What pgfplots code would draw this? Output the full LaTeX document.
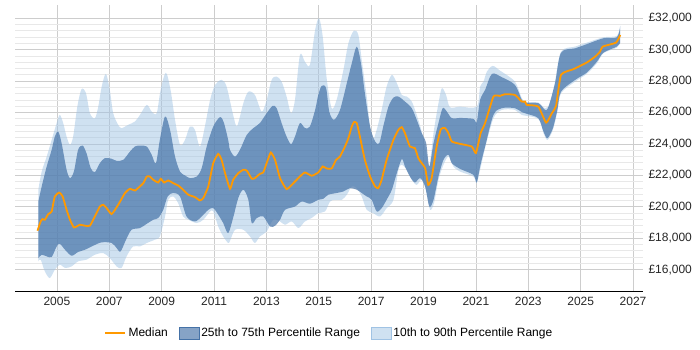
\documentclass[border=0pt]{standalone}
\usepackage{fontspec}
\setmainfont{Liberation Sans}
\usepackage{pgfplots}
\pgfplotsset{compat=1.18}
\usepgfplotslibrary{fillbetween}
\definecolor{med}{RGB}{255,153,0}
\definecolor{iqr}{RGB}{69,114,167}
\definecolor{dec}{RGB}{160,195,228}
\definecolor{gmaj}{RGB}{205,205,205}
\definecolor{gmin}{RGB}{232,232,232}

\pgfplotstableread{
x y
2004.26 18480
2004.38 19070
2004.45 19220
2004.54 19180
2004.67 19540
2004.80 19710
2004.92 20660
2005.09 20910
2005.22 20660
2005.37 19810
2005.50 19180
2005.65 18690
2005.88 18860
2006.07 18800
2006.26 18800
2006.45 19390
2006.64 20020
2006.77 20130
2006.90 19920
2007.09 19540
2007.34 20130
2007.60 20880
2007.79 21150
2007.98 21040
2008.17 21300
2008.30 21510
2008.43 21930
2008.55 21930
2008.68 21720
2008.87 21550
2008.97 21790
2009.09 21550
2009.25 21680
2009.44 21510
2009.63 21360
2009.82 21090
2010.02 20770
2010.27 20620
2010.46 20410
2010.59 20560
2010.78 21300
2010.97 22780
2011.16 23370
2011.29 22990
2011.42 22150
2011.61 21150
2011.73 21720
2011.93 22150
2012.12 22360
2012.25 22310
2012.44 21790
2012.56 21830
2012.75 22100
2012.88 22190
2013.03 22880
2013.17 23460
2013.33 22990
2013.52 21830
2013.77 21130
2014.03 21510
2014.28 21930
2014.47 22190
2014.73 21980
2014.98 22190
2015.15 22570
2015.30 22440
2015.49 22440
2015.66 22990
2015.81 23200
2016.00 23840
2016.13 24370
2016.26 25110
2016.34 25390
2016.45 25330
2016.57 24470
2016.76 22990
2016.96 21930
2017.15 21300
2017.27 21190
2017.40 21720
2017.59 22990
2017.85 24260
2018.04 24900
2018.17 25070
2018.29 24690
2018.48 23840
2018.67 23740
2018.80 23100
2018.93 22780
2019.06 22470
2019.18 21400
2019.31 21830
2019.50 23840
2019.66 24940
2019.82 25010
2019.95 24690
2020.08 24160
2020.39 24010
2020.84 23840
2021.00 23420
2021.18 24690
2021.35 25330
2021.67 27020
2021.92 27060
2022.11 27170
2022.49 27120
2022.75 26700
2022.88 26700
2022.94 26490
2023.38 26380
2023.68 25360
2023.90 25960
2024.06 26430
2024.25 28400
2024.72 28760
2025.23 29180
2025.55 29560
2025.74 29880
2025.84 30200
2026.35 30450
2026.51 30940
}\median

\pgfplotstableread{
x y
2004.29 20340
2004.42 21300
2004.61 22570
2004.80 23630
2004.92 24470
2005.05 24790
2005.18 24050
2005.37 22360
2005.50 21830
2005.65 22250
2005.81 23630
2005.98 23900
2006.13 23420
2006.29 22470
2006.45 22210
2006.64 22780
2006.83 23100
2007.09 23060
2007.28 22930
2007.53 22990
2007.79 23520
2007.98 23840
2008.17 23900
2008.43 23840
2008.62 23310
2008.78 22780
2008.93 24260
2009.13 25750
2009.32 24900
2009.51 23200
2009.70 22250
2009.89 22000
2010.08 21830
2010.34 21930
2010.53 22470
2010.72 23840
2010.97 25110
2011.23 25710
2011.38 25330
2011.54 24260
2011.61 23630
2011.80 23200
2011.99 23630
2012.25 24580
2012.50 25010
2012.75 25330
2013.01 25960
2013.24 26430
2013.39 26280
2013.58 25330
2013.77 24470
2013.94 23990
2014.09 24470
2014.28 25330
2014.47 25010
2014.66 25110
2014.86 26170
2014.98 27120
2015.11 27700
2015.28 27550
2015.40 26060
2015.58 25540
2015.81 26170
2016.07 27870
2016.26 29140
2016.45 30200
2016.61 29140
2016.76 27230
2016.96 25110
2017.15 24160
2017.31 24050
2017.46 25110
2017.66 26380
2017.85 26950
2018.04 27020
2018.29 26700
2018.55 26280
2018.74 25540
2018.93 24690
2019.10 24050
2019.22 22570
2019.38 24050
2019.57 25330
2019.73 26280
2019.89 26060
2020.08 25640
2020.39 25660
2020.90 25600
2021.03 25390
2021.16 26810
2021.35 27440
2021.61 28460
2021.99 28250
2022.49 27760
2022.75 26810
2022.88 26640
2023.38 26600
2023.64 26170
2023.77 26380
2024.02 27870
2024.25 29810
2024.79 30090
2025.23 30350
2025.87 30730
2026.38 30790
2026.51 31510
}\pseventyfive

\pgfplotstableread{
x y
2004.29 16740
2004.42 16950
2004.61 16850
2004.80 16810
2004.99 17480
2005.11 17650
2005.31 17270
2005.56 16890
2005.81 17130
2006.07 17270
2006.39 17530
2006.71 17740
2007.09 17700
2007.28 17380
2007.43 17160
2007.64 17910
2007.85 18540
2008.17 18650
2008.43 18920
2008.68 19180
2008.87 19290
2009.06 19810
2009.23 20660
2009.44 20880
2009.70 20660
2009.95 19390
2010.27 19070
2010.53 19390
2010.78 19810
2010.97 19920
2011.16 19500
2011.35 18970
2011.54 18330
2011.73 19310
2011.93 20580
2012.12 21090
2012.31 20450
2012.44 18970
2012.63 19290
2012.88 19390
2013.14 18750
2013.33 18800
2013.52 19180
2013.71 19810
2014.09 20020
2014.35 20340
2014.66 20200
2014.98 20450
2015.17 20510
2015.36 20770
2015.68 20880
2015.94 20980
2016.19 21190
2016.45 21090
2016.64 20880
2016.83 20660
2017.02 20450
2017.21 19710
2017.40 19920
2017.59 20450
2017.79 21090
2017.98 22150
2018.17 23040
2018.29 22570
2018.48 21930
2018.67 21550
2018.87 21830
2019.06 21300
2019.22 20020
2019.38 20450
2019.57 21930
2019.76 22990
2019.95 23310
2020.08 22780
2020.39 22420
2020.90 22040
2021.03 21550
2021.16 22570
2021.35 23840
2021.67 25850
2021.99 26280
2022.49 26280
2022.75 26030
2022.94 25920
2023.38 25640
2023.58 24790
2023.73 24370
2023.94 25010
2024.11 26170
2024.25 27330
2024.79 28080
2025.23 28540
2025.62 29240
2025.87 29810
2026.38 30200
2026.51 30450
}\ptwentyfive

\pgfplotstableread{
x y
2004.29 21090
2004.42 22250
2004.61 23200
2004.80 24260
2004.99 25330
2005.11 25850
2005.24 25330
2005.37 24470
2005.50 23950
2005.62 24470
2005.78 26380
2005.94 27490
2006.11 27230
2006.26 25960
2006.45 25640
2006.58 26380
2006.71 27650
2006.87 28460
2007.02 27440
2007.15 25960
2007.34 25220
2007.47 25010
2007.72 25220
2007.98 25430
2008.17 25850
2008.43 26490
2008.62 26060
2008.81 25960
2008.96 27440
2009.16 28540
2009.34 27440
2009.51 25540
2009.70 23950
2009.89 24260
2010.08 25110
2010.27 24900
2010.46 23840
2010.65 25110
2010.85 26810
2011.04 27760
2011.29 28080
2011.48 27650
2011.73 25850
2011.88 25150
2012.12 26600
2012.31 27330
2012.56 27120
2012.82 26060
2013.01 26810
2013.20 28080
2013.39 28290
2013.58 27970
2013.77 27020
2013.94 25960
2014.09 26810
2014.28 29670
2014.47 29240
2014.66 29030
2014.86 31260
2015.01 32000
2015.15 30830
2015.30 28190
2015.49 26280
2015.68 26810
2015.94 28710
2016.13 30410
2016.34 31210
2016.51 30940
2016.64 29350
2016.83 27020
2017.02 24260
2017.19 24790
2017.40 26170
2017.59 27650
2017.79 28400
2017.98 27870
2018.17 27120
2018.36 27020
2018.55 26700
2018.74 25850
2018.93 24790
2019.12 23310
2019.22 22570
2019.38 24690
2019.57 26600
2019.70 27550
2019.86 27120
2020.01 26340
2020.39 26380
2021.03 26380
2021.16 27650
2021.29 27970
2021.42 28610
2021.64 28970
2021.92 28670
2022.49 27970
2022.75 26920
2022.94 26640
2023.38 26640
2023.64 26280
2023.83 26600
2024.02 27970
2024.25 29880
2024.79 30200
2025.23 30450
2025.87 30790
2026.38 30880
2026.51 31510
}\pninety

\pgfplotstableread{
x y
2004.29 16530
2004.38 16640
2004.54 15890
2004.73 15470
2004.92 16000
2005.11 16320
2005.31 16110
2005.56 16210
2005.81 16530
2006.13 16640
2006.45 16950
2006.77 17060
2007.02 16740
2007.28 16210
2007.47 16110
2007.66 16850
2007.91 17480
2008.17 17480
2008.43 17700
2008.74 17910
2008.93 18120
2009.13 19390
2009.25 20450
2009.44 20660
2009.63 20240
2009.82 19390
2010.02 19180
2010.34 18970
2010.59 19180
2010.85 19710
2010.97 19710
2011.16 18750
2011.35 18120
2011.54 17700
2011.61 17840
2011.80 18540
2012.12 18540
2012.37 18120
2012.56 17700
2012.75 18120
2013.01 18430
2013.26 19180
2013.52 19070
2013.71 18860
2013.97 19070
2014.22 18650
2014.47 19070
2014.73 19290
2014.98 19600
2015.24 19710
2015.43 20340
2015.62 20450
2015.88 20450
2016.07 20770
2016.26 21300
2016.45 21190
2016.64 20660
2016.83 19810
2017.08 19600
2017.34 19390
2017.59 19920
2017.85 20450
2018.04 22360
2018.17 22670
2018.36 22360
2018.55 21720
2018.74 21400
2018.93 21720
2019.12 20880
2019.25 19810
2019.40 20240
2019.57 21720
2019.76 22670
2019.95 23200
2020.14 22570
2020.39 22250
2020.90 21930
2021.03 21510
2021.19 22570
2021.35 23740
2021.67 25640
2021.99 26170
2022.49 26170
2022.75 25850
2023.38 25600
2023.58 24690
2023.73 24260
2023.94 24900
2024.11 26060
2024.25 27230
2024.79 27970
2025.23 28460
2025.62 29140
2025.87 29780
2026.38 30130
2026.51 30450
}\pten

\begin{document}
\begin{tikzpicture}
\begin{axis}[
  at={(15pt,58pt)}, anchor=south west,
  scale only axis, width=628pt, height=287pt,
  xmin=2003.40, xmax=2027.38, ymin=14582, ymax=32845,
  xtick={2005,2007,...,2027},
  ytick={16000,18000,...,32000},
  scaled y ticks=false, scaled x ticks=false,
  minor y tick num=4,
  xmajorgrids, ymajorgrids, yminorgrids,
  major grid style={draw=gmaj, line width=0.8pt},
  minor grid style={draw=gmin, line width=0.8pt},
  axis x line*=bottom, axis y line*=right,
  y axis line style={draw=none},
  x axis line style={black, line width=1pt},
  major tick length=0pt, minor tick length=0pt,
  /pgf/number format/assume math mode=true,
  tick label style={font=\fontsize{12}{14}\selectfont, text=black!85},
  xticklabel style={/pgf/number format/1000 sep={}, yshift=-2pt},
  yticklabel={£\pgfmathprintnumber[fixed,1000 sep={,}]{\tick}},
  yticklabel style={xshift=2pt},
  legend style={at={(0.5,-0.143)}, anchor=center, draw=none, fill=none,
    legend columns=-1, font=\fontsize{12}{14}\selectfont,
    /tikz/every even column/.append style={column sep=9pt}},
  legend cell align=left,
]
\addlegendimage{legend image code/.code={\draw[med, line width=2.8pt] (0pt,0pt) -- (20pt,0pt);}}
\addlegendentry{Median}
\addlegendimage{legend image code/.code={\fill[iqr, fill opacity=0.65] (0pt,-6pt) rectangle (20pt,6pt);}}
\addlegendentry{25th to 75th Percentile Range}
\addlegendimage{legend image code/.code={\fill[dec, fill opacity=0.5] (0pt,-6pt) rectangle (20pt,6pt);}}
\addlegendentry{10th to 90th Percentile Range}

\addplot[name path=p90, draw=none, smooth, tension=0.5, forget plot] table {\pninety};
\addplot[name path=p10, draw=none, smooth, tension=0.5, forget plot] table {\pten};
\addplot[fill=dec, fill opacity=0.5, forget plot] fill between[of=p90 and p10];
\addplot[name path=p75, draw=none, smooth, tension=0.5, forget plot] table {\pseventyfive};
\addplot[name path=p25, draw=none, smooth, tension=0.5, forget plot] table {\ptwentyfive};
\addplot[fill=iqr, fill opacity=0.7, forget plot] fill between[of=p75 and p25];
\addplot[med, line width=1.8pt, smooth, tension=0.3, forget plot] table {\median};
\end{axis}
\pgfresetboundingbox
\useasboundingbox (0pt,0pt) rectangle (700pt,350pt);
\end{tikzpicture}
\end{document}
